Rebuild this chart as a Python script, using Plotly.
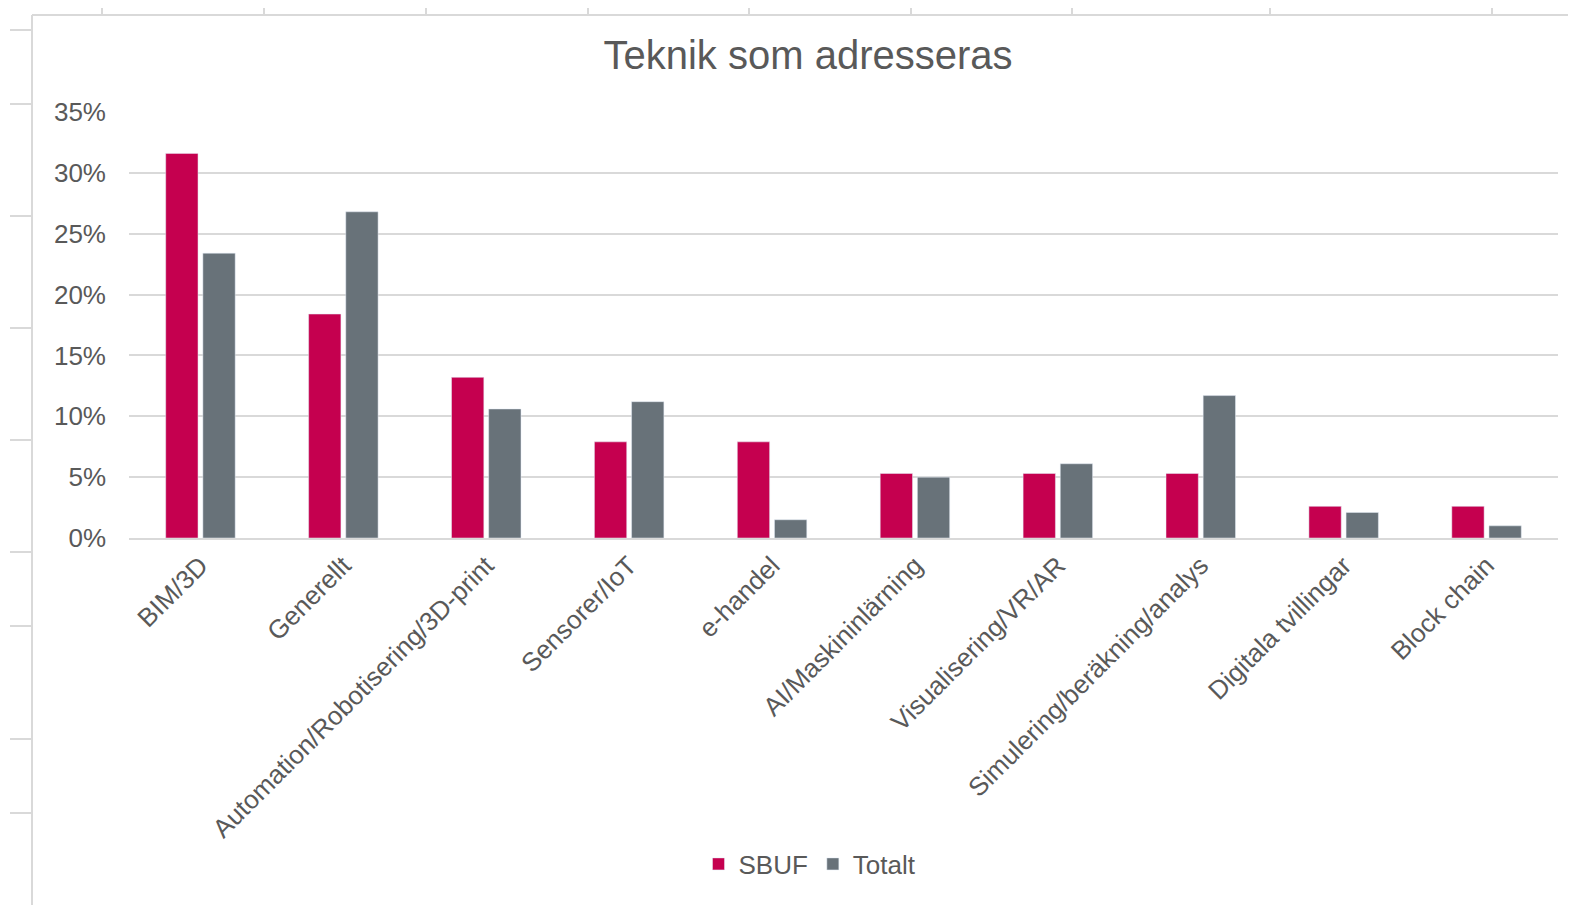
"""
Teknik som adresseras - grouped bar chart (SBUF vs Totalt)
"""

import plotly.graph_objects as go

categories = [
    "BIM/3D", "Generellt", "Automation/Robotisering/3D-print", "Sensorer/IoT",
    "e-handel", "AI/Maskininlärning", "Visualisering/VR/AR",
    "Simulering/beräkning/analys", "Digitala tvillingar", "Block chain",
]
sbuf = [0.316, 0.184, 0.132, 0.079, 0.079, 0.053, 0.053, 0.053, 0.026, 0.026]
totalt = [0.234, 0.268, 0.106, 0.112, 0.015, 0.050, 0.061, 0.117, 0.021, 0.010]
y_ticks = [0, 0.05, 0.10, 0.15, 0.20, 0.25, 0.30, 0.35]
y_labels = ["0%", "5%", "10%", "15%", "20%", "25%", "30%", "35%"]

# page has an 8px body margin, so the figure is drawn 8px smaller
OFF = 8
W, H = 1576 - OFF, 905 - OFF
L, R, T, B = 129 - OFF, 18, 112 - OFF, 367
GRAY = "#595959"
LINE = "#d9d9d9"


def px_x(x):
    # page pixel -> paper coordinate
    return (x - OFF - L) / (W - L - R)


def px_y(y):
    return (H - B - (y - OFF)) / (H - T - B)


fig = go.Figure()
fig.add_trace(go.Bar(x=categories, y=sbuf, name="SBUF",
                     marker=dict(color="#c5004f")))
fig.add_trace(go.Bar(x=categories, y=totalt, name="Totalt",
                     marker=dict(color="#687279")))

# spreadsheet cell borders around the chart
shapes = [
    dict(type="line", xref="paper", yref="paper", x0=px_x(32), x1=px_x(1576),
         y0=px_y(15), y1=px_y(15), line=dict(color=LINE, width=2)),
    dict(type="line", xref="paper", yref="paper", x0=px_x(32), x1=px_x(32),
         y0=px_y(15), y1=px_y(905), line=dict(color=LINE, width=2)),
]
for x in [102, 264, 426, 588, 749, 911, 1072, 1270, 1492]:
    shapes.append(dict(type="line", xref="paper", yref="paper",
                       x0=px_x(x), x1=px_x(x), y0=px_y(OFF), y1=px_y(15),
                       line=dict(color=LINE, width=2)))
for y in [30, 104, 216, 328, 440, 552, 626, 739, 813]:
    shapes.append(dict(type="line", xref="paper", yref="paper",
                       x0=px_x(10), x1=px_x(32), y0=px_y(y), y1=px_y(y),
                       line=dict(color=LINE, width=2)))

fig.update_layout(
    width=W, height=H,
    margin=dict(l=L, r=R, t=T, b=B),
    paper_bgcolor="white", plot_bgcolor="white",
    font=dict(family="Liberation Sans, Arial", size=26, color=GRAY),
    title=dict(text="Teknik som adresseras", x=px_x(808), xref="paper",
               xanchor="center", y=1 - (55 - OFF) / H, yanchor="middle",
               font=dict(size=40, color=GRAY)),
    barmode="group", bargap=0.48, bargroupgap=0.13,
    showlegend=True,
    legend=dict(orientation="h", x=px_x(810), xanchor="center",
                y=px_y(864), yanchor="middle", font=dict(size=26, color=GRAY),
                itemwidth=30, traceorder="normal"),
    shapes=shapes,
)
fig.update_xaxes(tickangle=-45, showline=True, linecolor=LINE, linewidth=2,
                 ticks="", showgrid=False)
fig.update_yaxes(range=[0, 0.35], tickvals=y_ticks, ticktext=y_labels,
                 showgrid=True, gridcolor=LINE, gridwidth=2, zeroline=False,
                 showline=False, ticklabelstandoff=22)

fig.write_html("out.html")
